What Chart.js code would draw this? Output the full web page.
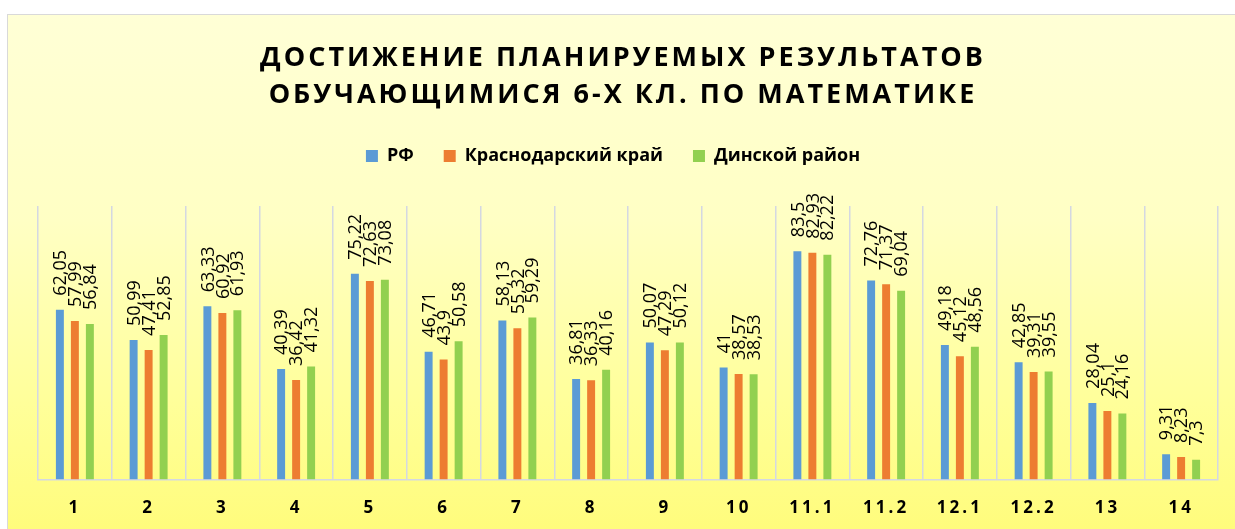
<!DOCTYPE html>
<html>
<head>
<meta charset="utf-8">
<script src="https://cdn.jsdelivr.net/npm/chart.js@4.4.1/dist/chart.umd.min.js"></script>
<style>
  html, body { margin: 0; padding: 0; background: #ffffff; }
  #frame {
    position: absolute; left: 7px; top: 14px; width: 1228px; height: 515px;
    border-top: 1px solid #d9d9d9; border-left: 1px solid #d9d9d9;
    background: linear-gradient(to bottom, #ffffd6 0%, #ffffc4 40%, #ffff9a 75%, #fffc7c 100%);
  }
  #chart { display: block; }
</style>
</head>
<body>
<div id="frame"><canvas id="chart" width="1228" height="515"></canvas></div>
<script>
const categories = ['1', '2', '3', '4', '5', '6', '7', '8', '9', '10', '11.1', '11.2', '12.1', '12.2', '13', '14'];
const rfValues = [62.05, 50.99, 63.33, 40.39, 75.22, 46.71, 58.13, 36.81, 50.07, 41, 83.5, 72.76, 49.18, 42.85, 28.04, 9.31];
const krayValues = [57.99, 47.41, 60.92, 36.42, 72.63, 43.9, 55.32, 36.33, 47.29, 38.57, 82.93, 71.37, 45.12, 39.31, 25.1, 8.23];
const rayonValues = [56.84, 52.85, 61.93, 41.32, 73.08, 50.58, 59.29, 40.16, 50.12, 38.53, 82.22, 69.04, 48.56, 39.55, 24.16, 7.3];
const seriesNames = ['РФ', 'Краснодарский край', 'Динской район'];
const titleLines = ['ДОСТИЖЕНИЕ ПЛАНИРУЕМЫХ РЕЗУЛЬТАТОВ', 'ОБУЧАЮЩИМИСЯ 6-Х КЛ. ПО МАТЕМАТИКЕ'];

const FONT = '"Open Sans", "Noto Sans", sans-serif';

// title drawn by hand so it can have letter spacing
const titlePlugin = {
    id: 'spacedTitle',
    afterDraw(chart) {
        const ctx = chart.ctx;
        ctx.save();
        ctx.font = 'bold 27px ' + FONT;
        ctx.fillStyle = '#000';
        ctx.textAlign = 'center';
        ctx.textBaseline = 'middle';
        ctx.letterSpacing = '3px';
        titleLines.forEach((line, i) => ctx.fillText(line, chart.width / 2 + 1, 43 + i * 37));
        ctx.restore();
    }
};

// rotated value labels above bars, comma as decimal separator
const valueLabels = {
    id: 'valueLabels',
    afterDatasetsDraw(chart) {
        const ctx = chart.ctx;
        ctx.save();
        ctx.font = '18px ' + FONT;
        ctx.fillStyle = '#000';
        ctx.textAlign = 'left';
        ctx.textBaseline = 'middle';
        chart.data.datasets.forEach((ds, di) => {
            chart.getDatasetMeta(di).data.forEach((bar, i) => {
                const txt = String(ds.data[i]).replace('.', ',');
                ctx.save();
                ctx.translate(bar.x + 1, bar.y - 14);
                ctx.rotate(-Math.PI / 2);
                ctx.fillText(txt, 0, 0);
                ctx.restore();
            });
        });
        ctx.restore();
    }
};

// spacing under legend, legend a bit left of centre, letter spaced tick labels
const layoutTweaks = {
    id: 'layoutTweaks',
    beforeInit(chart) {
        const fit = chart.legend.fit;
        chart.legend.fit = function() {
            fit.call(this);
            this.height += 31;
        };
    },
    afterLayout(chart) {
        chart.legend.left -= 30;
    },
    beforeDraw(chart) {
        const s = chart.scales.x;
        if (!s._spaced) {
            const draw = s.drawLabels.bind(s);
            s.drawLabels = function(area) {
                chart.ctx.save();
                chart.ctx.letterSpacing = '3px';
                draw(area);
                chart.ctx.restore();
            };
            s._spaced = true;
        }
    }
};

document.addEventListener('DOMContentLoaded', function() {
    const ctx = document.getElementById('chart').getContext('2d');
    new Chart(ctx, {
        type: 'bar',
        data: {
            labels: categories,
            datasets: [{
                label: seriesNames[0],
                data: rfValues,
                backgroundColor: '#5b9bd5'
            },
            {
                label: seriesNames[1],
                data: krayValues,
                backgroundColor: '#ed7d31'
            },
            {
                label: seriesNames[2],
                data: rayonValues,
                backgroundColor: '#92d050'
            }]
        },
        options: {
            responsive: false,
            animation: false,
            categoryPercentage: 0.61,
            barPercentage: 0.53,
            layout: {
                padding: { top: 102, left: 30, right: 18, bottom: -6 }
            },
            scales: {
                x: {
                    grid: { color: '#d4d8e2', lineWidth: 1.5, drawTicks: false, offset: true },
                    border: { color: '#d4d8e2', width: 1.5 },
                    ticks: {
                        padding: 18,
                        color: '#000',
                        font: { family: FONT, size: 17, weight: 'bold' }
                    }
                },
                y: {
                    display: false,
                    min: 0,
                    max: 100
                }
            },
            plugins: {
                legend: {
                    position: 'top',
                    labels: {
                        boxWidth: 12,
                        boxHeight: 12,
                        padding: 30,
                        color: '#000',
                        font: { family: FONT, size: 18, weight: 'bold' }
                    }
                },
                tooltip: { enabled: false }
            }
        },
        plugins: [titlePlugin, valueLabels, layoutTweaks]
    });
});
</script>
</body>
</html>
